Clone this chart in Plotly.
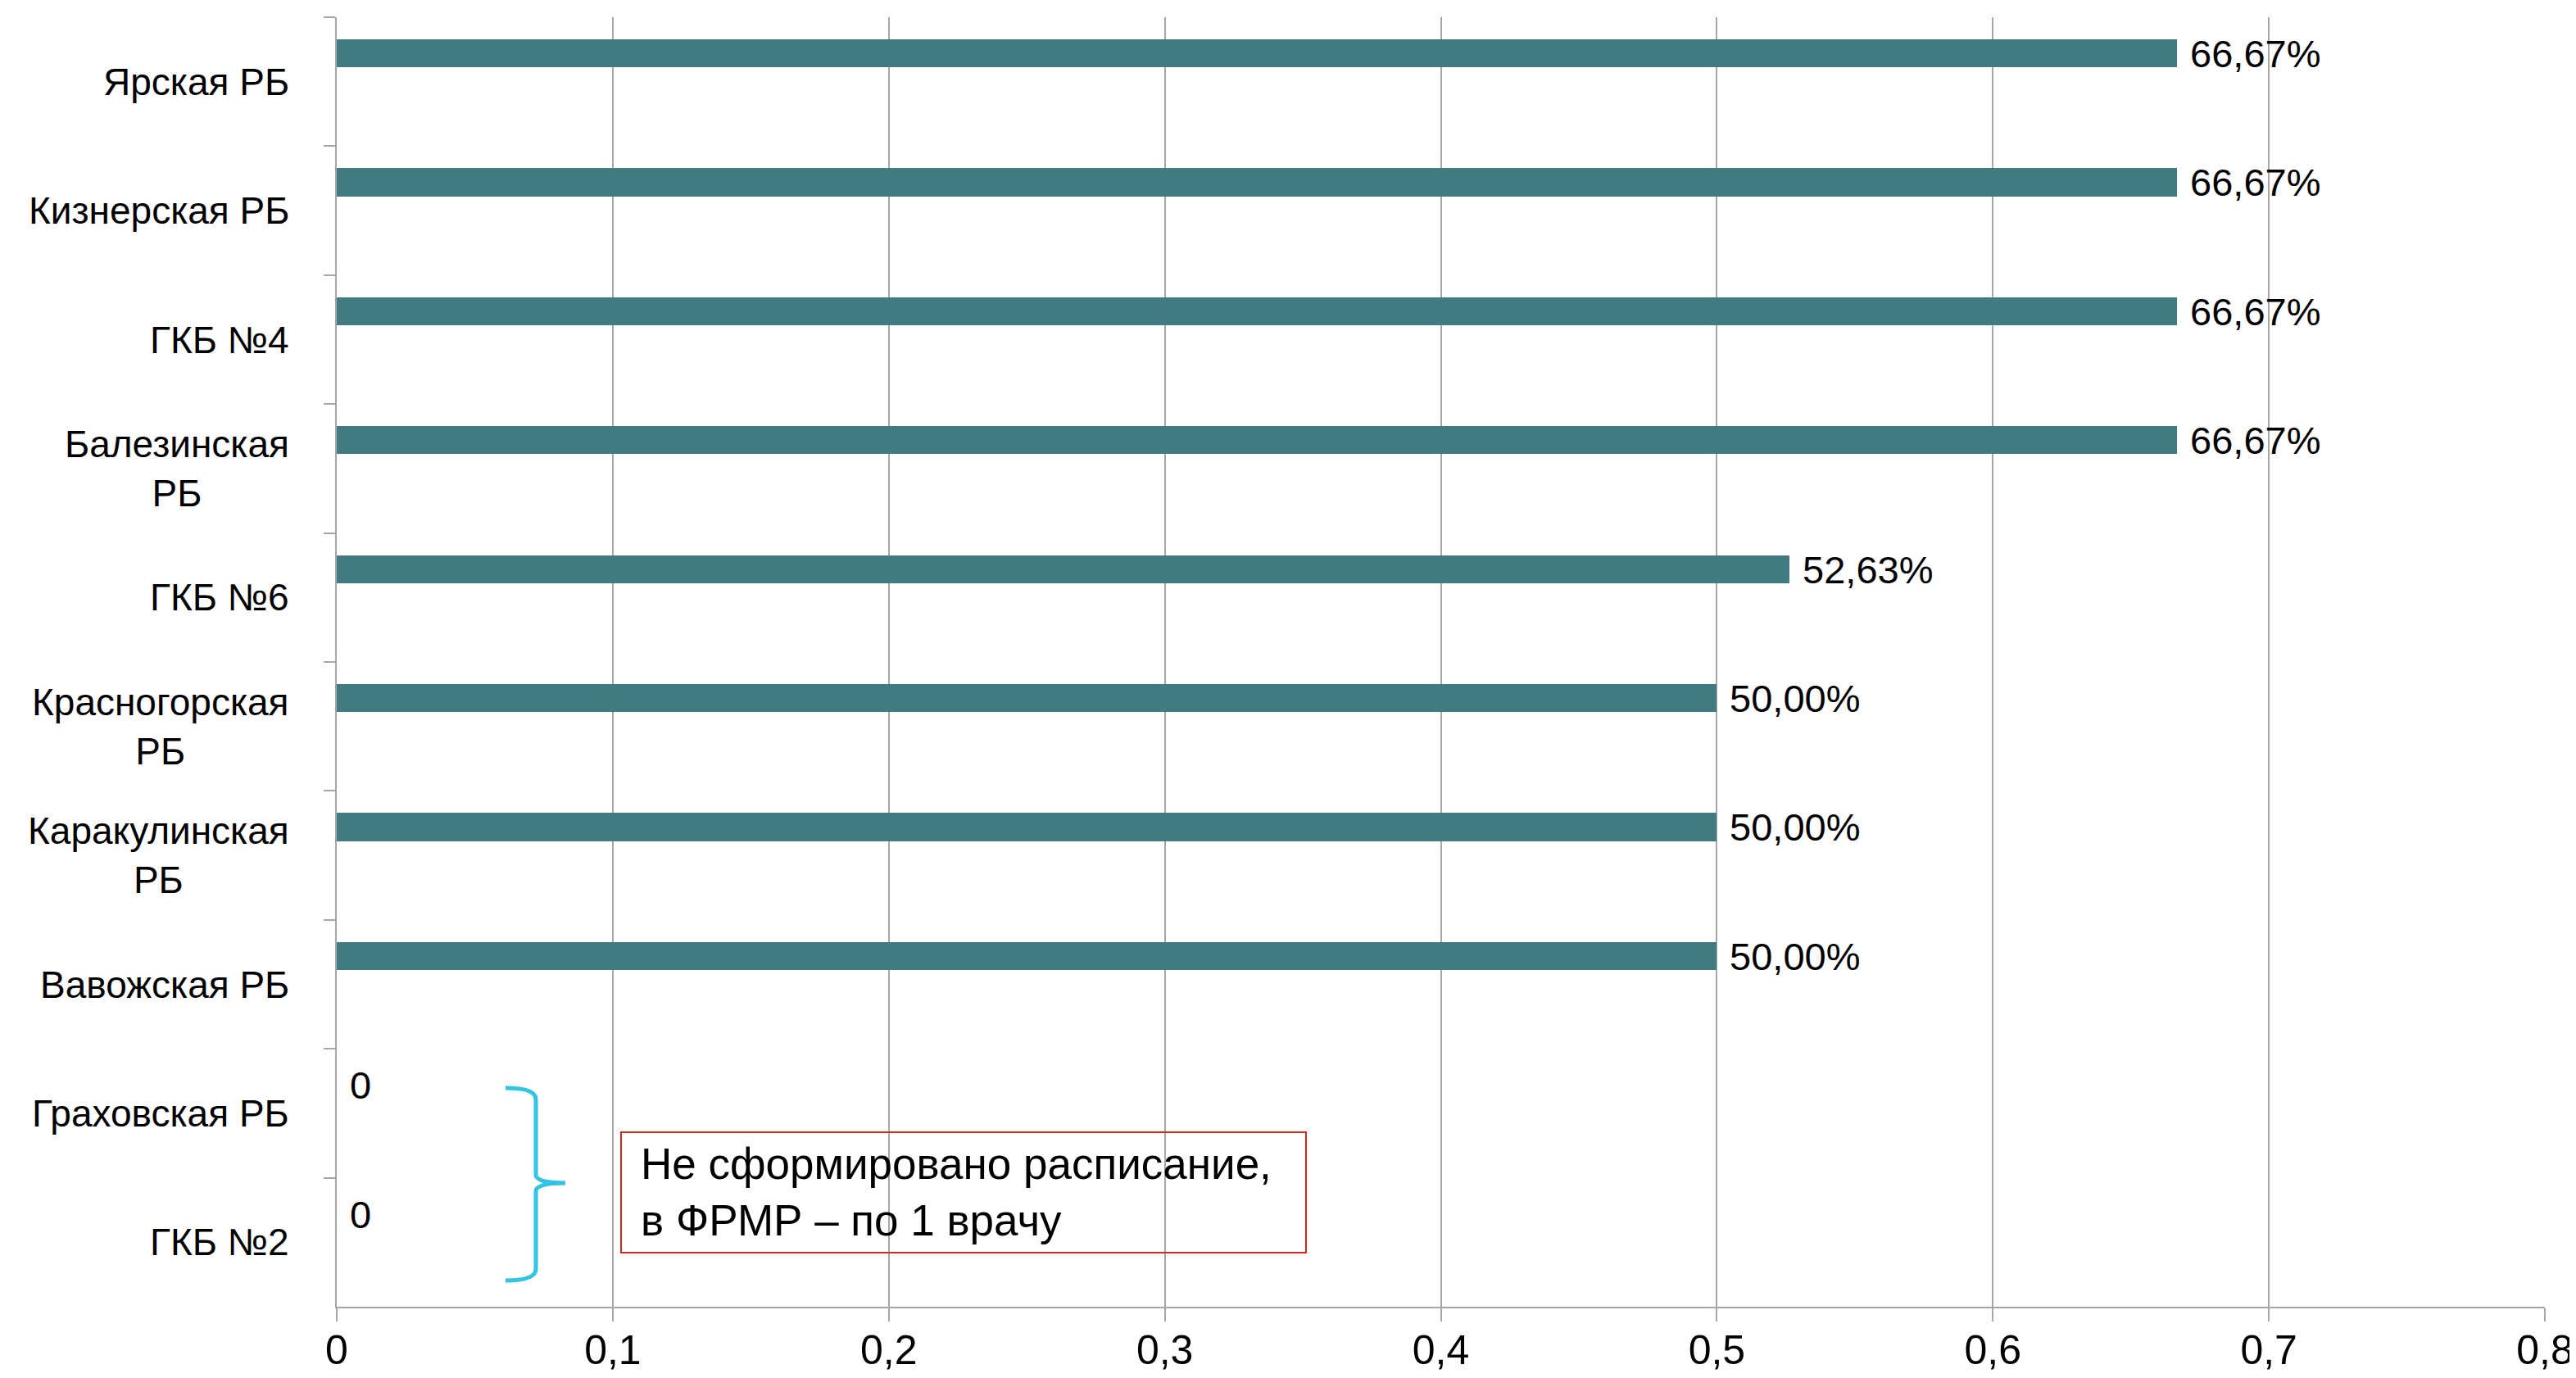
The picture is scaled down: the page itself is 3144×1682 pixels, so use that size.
import plotly.graph_objects as go

# ---- data ----
categories = ["Ярская РБ", "Кизнерская РБ", "ГКБ №4", "Балезинская РБ", "ГКБ №6",
              "Красногорская РБ", "Каракулинская РБ", "Вавожская РБ", "Граховская РБ", "ГКБ №2"]
tick_labels = ["Ярская РБ", "Кизнерская РБ", "ГКБ №4", "Балезинская<br>РБ", "ГКБ №6",
               "Красногорская<br>РБ", "Каракулинская<br>РБ", "Вавожская РБ", "Граховская РБ", "ГКБ №2"]
values = [0.6667, 0.6667, 0.6667, 0.6667, 0.5263, 0.50, 0.50, 0.50, 0.0, 0.0]
x_ticks = [0, 0.1, 0.2, 0.3, 0.4, 0.5, 0.6, 0.7, 0.8]
note_text = "Не сформировано расписание,<br>в ФРМР – по 1 врачу"


def fmt(v):
    if v == 0:
        return "0"
    return f"{v * 100:.2f}%".replace(".", ",")


labels = [fmt(v) for v in values]

# ---- geometry (page pixels of the reference; the page body adds an 8px offset) ----
OFF = 8
W, H = 3144 - OFF, 1682 - OFF
L, R, T, B = 411 - OFF, 3106 - OFF, 21 - OFF, 1595 - OFF
FONT = "Liberation Sans, Arial, sans-serif"
GREY = "#a6a6a6"


def px(x):
    return (x - OFF - L) / (R - L)


def py(y):
    return (B - (y - OFF)) / (B - T)


fig = go.Figure()
fig.add_trace(go.Bar(
    x=values, y=categories, orientation="h",
    width=0.218, offset=-0.329,
    marker=dict(color="#417b81", line=dict(width=0)),
    text=labels, texttemplate="\u00a0%{text}",
    textposition="outside", constraintext="none",
    textfont=dict(family=FONT, size=47, color="black"),
    cliponaxis=False, showlegend=False,
))

annotations = []
for cat, lab in zip(categories, tick_labels):
    annotations.append(dict(
        x=0, xref="paper", y=cat, yref="y", xanchor="right", yanchor="middle",
        xshift=-56, text=lab, align="center", showarrow=False,
        font=dict(family=FONT, size=46, color="black"),
    ))

# note text
annotations.append(dict(
    x=px(780), xref="paper", y=py(1455), yref="paper", xanchor="left", yanchor="middle",
    text=note_text, align="left", showarrow=False,
    font=dict(family=FONT, size=53, color="black"),
))

shapes = [
    dict(type="rect", xref="paper", yref="paper",
         x0=px(758), x1=px(1594), y0=py(1529), y1=py(1382),
         line=dict(color="#d42a22", width=2), fillcolor="rgba(0,0,0,0)", layer="above"),
]

# curly brace
pts = [("M", [(617, 1328)]), ("Q", [(654, 1328), (654, 1342)]), ("L", [(654, 1434)]),
       ("Q", [(654, 1444), (690, 1444)]), ("Q", [(654, 1444), (654, 1454)]),
       ("L", [(654, 1549)]), ("Q", [(654, 1563), (617, 1563)])]
path = ""
for cmd, coords in pts:
    path += cmd + " " + " ".join(f"{px(x):.5f},{py(y):.5f}" for x, y in coords) + " "
shapes.append(dict(type="path", xref="paper", yref="paper", path=path.strip(),
                   line=dict(color="#33c3e3", width=5), layer="above"))

fig.update_layout(
    width=W, height=H,
    margin=dict(l=L, r=W - R, t=T, b=H - B, pad=0, autoexpand=False),
    plot_bgcolor="white", paper_bgcolor="white",
    separators=", ",
    font=dict(family=FONT, color="black"),
    annotations=annotations, shapes=shapes,
    bargap=0,
)
fig.update_xaxes(
    range=[0, 0.8], tickvals=x_ticks, showgrid=True, gridcolor=GREY, gridwidth=2,
    showline=True, linecolor=GREY, linewidth=2, zeroline=False, automargin=False,
    ticks="outside", ticklen=16, tickcolor=GREY, tickwidth=2, ticklabelstandoff=-8,
    ticklabeloverflow="allow",
    tickfont=dict(family=FONT, size=50, color="black"),
)
fig.update_yaxes(
    type="category", categoryorder="array", categoryarray=categories,
    range=[len(categories) - 0.5, -0.5], automargin=False,
    showgrid=False, showline=True, linecolor=GREY, linewidth=2, zeroline=False,
    ticks="outside", tickson="boundaries", ticklen=14, tickcolor=GREY, tickwidth=2,
    showticklabels=False,
)

fig.write_html("out.html")
